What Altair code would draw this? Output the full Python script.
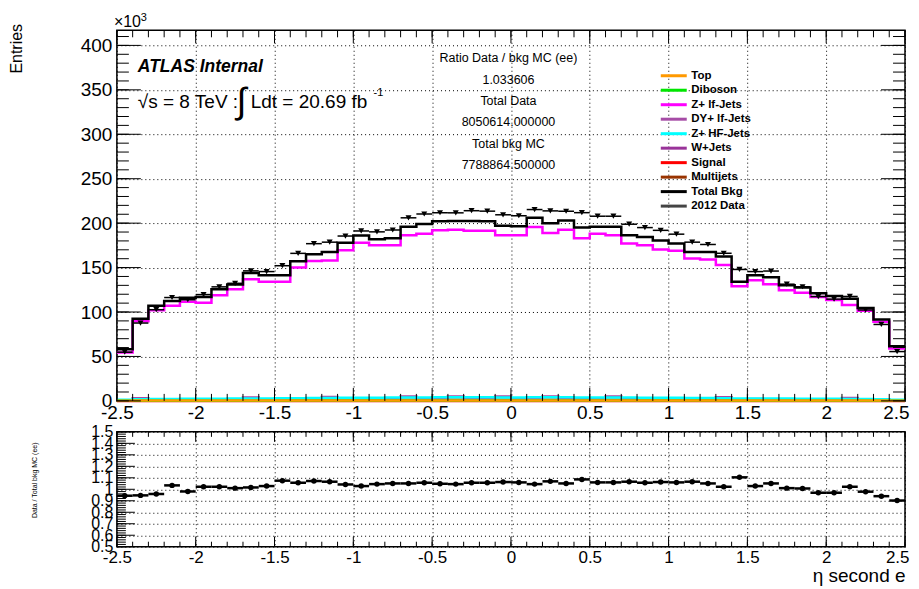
import altair as alt
import pandas as pd

# ---------------- data (thousands of entries per 0.1 bin in eta) ----------------
x_edges = [round(-2.5 + 0.1 * i, 1) for i in range(51)]

series_names = ["Top", "Diboson", "Z+ lf-Jets", "DY+ lf-Jets", "Z+ HF-Jets",
                "W+Jets", "Signal", "Multijets", "Total Bkg", "2012 Data"]
series_colors = ["#ff9900", "#00e600", "#ff00ff", "#a64ca6", "#00ffff",
                 "#993399", "#ff0000", "#993300", "#000000", "#444444"]

total_bkg = [58, 92.5, 107, 112.5, 116, 117, 125.5, 131, 144, 141.5,
             141.5, 157, 165, 167.5, 178, 186, 182, 183, 196, 199,
             202, 202.5, 202.5, 202, 197, 196.5, 206, 200, 203, 195,
             196, 196, 186.5, 184.5, 180.5, 177, 167.5, 167.5, 162.5, 134,
             141.5, 139, 130, 127.5, 121, 118, 115, 104.5, 91.5, 61.5]
z_lf = [54.5, 89.5, 102, 107, 111.5, 110.5, 119, 125.5, 137, 134,
        134, 150, 157.5, 158, 169.5, 178, 175, 175, 186.3, 188,
        192, 192.5, 191.5, 191.5, 186.3, 186.3, 195.7, 189, 192.5, 183,
        188, 186.3, 177, 175, 170.3, 169, 160.3, 159.2, 152.8, 129,
        135.8, 131.3, 124.6, 121.6, 117, 113.4, 107.8, 101.3, 89, 59]
z_hf = [1.3, 1.9, 2.1, 2.2, 2.3, 2.4, 2.5, 2.6, 2.8, 2.8,
        2.9, 3.1, 3.2, 3.3, 3.5, 3.6, 3.6, 3.7, 3.9, 3.9,
        4.0, 4.0, 4.0, 4.0, 3.9, 3.9, 4.1, 4.0, 4.0, 3.9,
        3.9, 3.8, 3.7, 3.6, 3.6, 3.5, 3.3, 3.2, 3.0, 2.7,
        2.8, 2.7, 2.6, 2.5, 2.4, 2.3, 2.2, 2.1, 1.9, 1.3]
dy_lf = [0.8, 2.9, 1.2, 1.4, 1.5, 1.6, 1.7, 1.8, 3.8, 1.9,
         2.0, 2.1, 2.2, 4.3, 2.4, 2.5, 2.5, 2.6, 4.9, 2.7,
         2.8, 5.0, 2.8, 2.8, 4.9, 2.7, 2.7, 5.0, 2.8, 2.7,
         2.7, 4.8, 2.5, 2.5, 2.5, 2.4, 2.3, 2.2, 4.0, 1.9,
         2.0, 1.9, 1.8, 1.7, 1.6, 1.6, 3.2, 1.4, 1.2, 0.8]
w_jets = [0.3, 0.4, 0.4, 0.4, 0.5, 0.5, 0.5, 0.5, 0.5, 0.5,
          0.6, 0.6, 0.6, 0.6, 0.6, 0.6, 0.6, 0.6, 0.7, 0.7,
          0.7, 0.7, 0.7, 0.7, 0.7, 0.7, 0.7, 0.7, 0.7, 0.7,
          0.7, 0.6, 0.6, 0.6, 0.6, 0.6, 0.6, 0.6, 0.6, 0.5,
          0.5, 0.5, 0.5, 0.5, 0.5, 0.4, 0.4, 0.4, 0.4, 0.3]
multijets = [0.8, 1.0, 1.0, 1.1, 1.1, 1.1, 1.2, 1.2, 1.2, 1.2,
             1.3, 1.3, 1.3, 1.3, 1.4, 1.4, 1.4, 1.4, 1.4, 1.4,
             1.4, 1.4, 1.4, 1.4, 1.4, 1.4, 1.4, 1.4, 1.4, 1.4,
             1.4, 1.4, 1.4, 1.4, 1.4, 1.4, 1.3, 1.3, 1.3, 1.3,
             1.2, 1.2, 1.2, 1.2, 1.1, 1.1, 1.1, 1.0, 1.0, 0.8]
top = [0.2, 0.3, 0.3, 0.3, 0.3, 0.3, 0.4, 0.4, 0.4, 0.4,
       0.4, 0.4, 0.5, 0.5, 0.5, 0.5, 0.5, 0.5, 0.5, 0.5,
       0.5, 0.5, 0.5, 0.5, 0.5, 0.5, 0.5, 0.5, 0.5, 0.5,
       0.5, 0.5, 0.5, 0.5, 0.5, 0.5, 0.5, 0.4, 0.4, 0.4,
       0.4, 0.4, 0.4, 0.3, 0.3, 0.3, 0.3, 0.3, 0.3, 0.2]
diboson = [0.1, 0.2, 0.2, 0.2, 0.2, 0.2, 0.2, 0.2, 0.2, 0.2,
           0.2, 0.3, 0.3, 0.3, 0.3, 0.3, 0.3, 0.3, 0.3, 0.3,
           0.3, 0.3, 0.3, 0.3, 0.3, 0.3, 0.3, 0.3, 0.3, 0.3,
           0.3, 0.3, 0.3, 0.3, 0.3, 0.3, 0.3, 0.3, 0.3, 0.2,
           0.2, 0.2, 0.2, 0.2, 0.2, 0.2, 0.2, 0.2, 0.2, 0.1]
signal = [0.0, 0.0, 0.0, 0.0, 0.0, 0.0, 0.0, 0.0, 0.0, 0.0,
          0.0, 0.0, 0.0, 0.0, 0.0, 0.0, 0.0, 0.0, 0.0, 0.0,
          0.0, 0.0, 0.0, 0.0, 0.0, 0.0, 0.0, 0.0, 0.0, 0.0,
          0.0, 0.0, 0.0, 0.0, 0.0, 0.0, 0.0, 0.0, 0.0, 0.0,
          0.0, 0.0, 0.0, 0.0, 0.0, 0.0, 0.0, 0.0, 0.0, 0.0]
data_2012 = [54.8, 87.6, 102.6, 116.3, 113.8, 119.6, 128.3, 132.3, 146.3, 145.5,
             152.1, 166.0, 176.9, 178.6, 185.5, 191.2, 190.2, 192.3, 206.0, 210.3,
             211.7, 211.6, 214.0, 213.5, 209.4, 208.3, 215.3, 213.8, 213.4, 211.8,
             207.8, 207.8, 198.8, 195.0, 191.9, 187.6, 178.6, 176.0, 166.1, 147.9,
             145.5, 146.1, 131.3, 128.4, 117.4, 114.5, 117.5, 102.3, 86.0, 55.5]
ratio = [0.944, 0.947, 0.959, 1.034, 0.981, 1.022, 1.022, 1.010, 1.016, 1.028,
         1.075, 1.057, 1.072, 1.066, 1.042, 1.028, 1.045, 1.051, 1.051, 1.057,
         1.048, 1.045, 1.057, 1.057, 1.063, 1.060, 1.045, 1.069, 1.051, 1.086,
         1.060, 1.060, 1.066, 1.057, 1.063, 1.060, 1.066, 1.051, 1.022, 1.104,
         1.028, 1.051, 1.010, 1.007, 0.970, 0.970, 1.022, 0.979, 0.940, 0.902]

x_label_values = [-2.5, -2, -1.5, -1, -0.5, 0, 0.5, 1, 1.5, 2, 2.5]
y_label_values = [0, 50, 100, 150, 200, 250, 300, 350, 400]
r_label_values = [0.5, 0.6, 0.7, 0.8, 0.9, 1, 1.1, 1.2, 1.3, 1.4, 1.5]

stats_lines = ["Ratio Data / bkg MC (ee)", "1.033606", "Total Data",
               "8050614.000000", "Total bkg MC", "7788864.500000"]

# ---------------- tables ----------------
def step_table(name, vals):
    rows = [{"x": x_edges[i], "v": v, "series": name} for i, v in enumerate(vals)]
    rows.append({"x": x_edges[-1], "v": vals[-1], "series": name})
    return rows

small_rows = []
for nm, vals in [("Multijets", multijets), ("Signal", signal), ("W+Jets", w_jets),
                 ("DY+ lf-Jets", dy_lf), ("Z+ HF-Jets", z_hf), ("Diboson", diboson),
                 ("Top", top)]:
    small_rows += step_table(nm, vals)
small_df = pd.DataFrame(small_rows)
zlf_df = pd.DataFrame(step_table("Z+ lf-Jets", z_lf))
tot_df = pd.DataFrame(step_table("Total Bkg", total_bkg))
pts_df = pd.DataFrame({"lo": x_edges[:-1], "hi": x_edges[1:],
                       "c": [round(e + 0.05, 2) for e in x_edges[:-1]],
                       "data": data_2012, "ratio": ratio})

main_minor_x = pd.DataFrame({"t": [round(-2.5 + 0.1 * i, 1) for i in range(51)]})
main_major_x = pd.DataFrame({"t": x_label_values})
main_minor_y = pd.DataFrame({"t": list(range(0, 420, 10))})
main_major_y = pd.DataFrame({"t": y_label_values})
rat_minor_y = pd.DataFrame({"t": [round(0.5 + 0.02 * i, 2) for i in range(51)]})
rat_major_y = pd.DataFrame({"t": r_label_values})

# ---------------- geometry / style ----------------
W, H, HR = 789, 371, 115
FONT = "Liberation Sans"
xs = alt.Scale(domain=[-2.5, 2.5], nice=False, zero=False)
ys = alt.Scale(domain=[0, 417], nice=False, zero=False)
yr = alt.Scale(domain=[0.5, 1.5], nice=False, zero=False)
cs = alt.Scale(domain=series_names, range=series_colors)

grid_kw = dict(grid=True, gridDash=[1, 3], gridColor="black", gridOpacity=1, gridWidth=1,
               tickSize=0, domain=False, labelFont=FONT, labelColor="black",
               labelOverlap=False, labelFlush=False, labelExpr="'' + datum.value")
# keep the last x label inside the window
last_align = {"condition": {"test": "datum.value == 2.5", "value": "right"}, "value": "center"}
last_shift = {"condition": {"test": "datum.value == 2.5", "value": 4}, "value": 0}

main_x_axis = alt.Axis(values=x_label_values, labelFontSize=19, labelPadding=3, title=None,
                       labelAlign=last_align, labelOffset=last_shift, **grid_kw)
main_y_axis = alt.Axis(values=y_label_values, labelFontSize=19, labelPadding=5,
                       title="Entries", titleFont=FONT, titleFontSize=16, titleFontWeight="normal",
                       titleColor="black", titleAngle=-90, titleX=-100, titleY=18,
                       titleAlign="center", titleBaseline="middle", **grid_kw)
rat_x_axis = alt.Axis(values=x_label_values, labelFontSize=17, labelPadding=3,
                      labelAlign=last_align, labelOffset=last_shift,
                      title="η second e", titleFont=FONT, titleFontSize=19, titleFontWeight="normal",
                      titleColor="black", titleX=W, titleY=35, titleAlign="right",
                      titleBaseline="alphabetic", **grid_kw)
rat_y_axis = alt.Axis(values=r_label_values, labelFontSize=16, labelPadding=4,
                      title="Data / Total bkg MC (ee)", titleFont=FONT, titleFontSize=7,
                      titleFontWeight="normal", titleColor="black", titleAngle=-90,
                      titleX=-82, titleY=48, titleAlign="center", titleBaseline="middle",
                      **grid_kw)

# stroke-shaped legend symbol 26 px long while the entry itself stays small
legend = alt.Legend(orient="none", legendX=551, legendY=39, title=None,
                    symbolType="M-2.6,0L2.6,0", symbolStrokeWidth=3, symbolSize=100,
                    labelFont=FONT, labelFontSize=11.5, labelFontWeight="bold",
                    labelColor="black", rowPadding=1.5, labelOffset=11, padding=0)


def MX(field):
    return alt.X(field, scale=xs, axis=main_x_axis)


def MY(field):
    return alt.Y(field, scale=ys, axis=main_y_axis)


def RX(field):
    return alt.X(field, scale=xs, axis=rat_x_axis)


def RY(field):
    return alt.Y(field, scale=yr, axis=rat_y_axis)


def xticks(df, XF, length, height, top=True):
    base = alt.Chart(df).mark_rule(color="black", strokeWidth=1)
    layers = [base.encode(x=XF("t:Q"), y=alt.value(height), y2=alt.value(height - length))]
    if top:
        layers.append(base.encode(x=XF("t:Q"), y=alt.value(0), y2=alt.value(length)))
    return layers


def yticks(df, YF, length, right=True):
    base = alt.Chart(df).mark_rule(color="black", strokeWidth=1)
    layers = [base.encode(y=YF("t:Q"), x=alt.value(0), x2=alt.value(length))]
    if right:
        layers.append(base.encode(y=YF("t:Q"), x=alt.value(W), x2=alt.value(W - length)))
    return layers


# ---------------- main panel ----------------
small_lines = alt.Chart(small_df).mark_line(interpolate="step-after", strokeWidth=2.5).encode(
    x=MX("x:Q"), y=MY("v:Q"), color=alt.Color("series:N", scale=cs, legend=legend))
zlf_line = alt.Chart(zlf_df).mark_line(interpolate="step-after", strokeWidth=2.5).encode(
    x=MX("x:Q"), y=MY("v:Q"), color=alt.Color("series:N", scale=cs, legend=legend))
tot_line = alt.Chart(tot_df).mark_line(interpolate="step-after", strokeWidth=2.5).encode(
    x=MX("x:Q"), y=MY("v:Q"), color=alt.Color("series:N", scale=cs, legend=legend))
data_bars = alt.Chart(pts_df).mark_rule(color="black", strokeWidth=1.5).encode(
    x=MX("lo:Q"), x2="hi:Q", y=MY("data:Q"))
data_pts = alt.Chart(pts_df).mark_point(shape="triangle-down", filled=True, size=36,
                                        color="black", opacity=1).encode(
    x=MX("c:Q"), y=MY("data:Q"))

one = pd.DataFrame({"a": [0]})


def label(text, x, y, size, weight="normal", style="normal", align="left", baseline="alphabetic"):
    return alt.Chart(one).mark_text(text=text, font=FONT, fontSize=size, fontWeight=weight,
                                     fontStyle=style, align=align, baseline=baseline,
                                     color="black").encode(x=alt.value(x), y=alt.value(y))


stats = alt.Chart(one).mark_text(text="\n".join(stats_lines), lineBreak="\n", lineHeight=21.4,
                                 font=FONT, fontSize=12.5, align="center", baseline="middle",
                                 color="black").encode(x=alt.value(392), y=alt.value(28))

texts = [
    label("ATLAS Internal", 21, 42, 17.5, weight="bold", style="italic"),
    label("√s = 8 TeV :", 21, 78, 19),
    label("∫", 120, 83, 36),
    label("Ldt = 20.69 fb", 134, 78, 19),
    label("-1", 257, 66, 11),
    label("×10", -3, -3, 16),
    label("3", 24, -9, 11),
]

main = alt.layer(
    small_lines, zlf_line, tot_line, data_bars, data_pts,
    *xticks(main_minor_x, MX, 7, H), *xticks(main_major_x, MX, 13, H),
    *yticks(main_minor_y, MY, 12), *yticks(main_major_y, MY, 24),
    stats, *texts,
).properties(width=W, height=H)

# ---------------- ratio panel ----------------
r_bars = alt.Chart(pts_df).mark_rule(color="black", strokeWidth=2.5).encode(
    x=RX("lo:Q"), x2="hi:Q", y=RY("ratio:Q"))
r_pts = alt.Chart(pts_df).mark_circle(size=30, color="black", opacity=1).encode(
    x=RX("c:Q"), y=RY("ratio:Q"))
ratio_chart = alt.layer(
    r_bars, r_pts,
    *xticks(main_minor_x, RX, 5, HR), *xticks(main_major_x, RX, 10, HR),
    *yticks(rat_minor_y, RY, 9, right=False), *yticks(rat_major_y, RY, 18, right=False),
).properties(width=W, height=HR)

chart = alt.vconcat(main, ratio_chart, spacing=31, bounds="flush").properties(
    padding={"left": 0, "top": 3, "right": 0, "bottom": 0},
    background="white",
).configure_view(stroke="black", strokeWidth=1.5)

chart.save("out.html", embed_options={"renderer": "svg", "actions": False})
